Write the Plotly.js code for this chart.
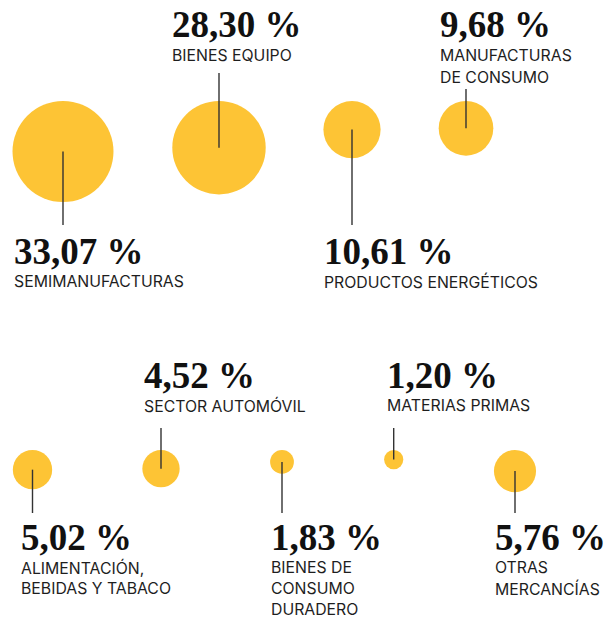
<!DOCTYPE html>
<html>
<head>
<meta charset="utf-8">
<script src="https://cdn.plot.ly/plotly-3.0.1.min.js"></script>
<style>
  html, body { margin: 0; padding: 0; background: #ffffff; }
  #chart { width: 605px; height: 618px; }
</style>
</head>
<body>
<div id="chart"></div>
<script>
// ---- data ----
var categories = [
  "SEMIMANUFACTURAS",
  "BIENES EQUIPO",
  "PRODUCTOS ENERGÉTICOS",
  "MANUFACTURAS<br>DE CONSUMO",
  "ALIMENTACIÓN,<br>BEBIDAS Y TABACO",
  "SECTOR AUTOMÓVIL",
  "BIENES DE<br>CONSUMO<br>DURADERO",
  "MATERIAS PRIMAS",
  "OTRAS<br>MERCANCÍAS"
];
var shares = [33.07, 28.30, 10.61, 9.68, 5.02, 4.52, 1.83, 1.20, 5.76];

// ---- layout (pixel positions, not data) ----
var W = 605, H = 618;
var circleX = [63, 219, 352, 466, 32.5, 161, 282, 393.7, 515];
var rowOf   = [0, 0, 0, 0, 1, 1, 1, 1, 1];
var rowTop  = [101, 450];
var side    = ["below", "above", "below", "above", "below", "above", "below", "above", "below"];
var textX   = [12, 170, 322, 438, 19, 142, 269, 385, 493];
var lineTopAbove = [null, 73, null, 89, null, 428, null, 428, null];
var lineEndBelow = [225, 513];
var numYAbove = [24.5, 375];
var numYBelow = [251, 537];
var labelStep = [22, 21];
var K = 17.56;                         // px of diameter per sqrt(%)
var SIZEREF = 2 / (K * K);             // plotly area-mode scale giving d = K*sqrt(v)
var YELLOW = "#FDC435";
var LINE = "#333333";
var INK = "#111111";

function diam(v) { return K * Math.sqrt(v); }
function fmt(v) { return v.toFixed(2).replace(".", ",") + " %"; }

var cy = shares.map(function (v, i) { return rowTop[rowOf[i]] + diam(v) / 2; });

var trace = {
  type: "scatter",
  mode: "markers",
  x: circleX,
  y: cy,
  text: categories,
  hoverinfo: "none",
  marker: {
    size: shares,
    sizemode: "area",
    sizeref: SIZEREF,
    color: YELLOW,
    opacity: 1,
    line: { width: 0 }
  }
};

var shapes = [];
var annotations = [];
shares.forEach(function (v, i) {
  var r = rowOf[i];
  var y0, y1, ny;
  if (side[i] === "above") {
    y0 = lineTopAbove[i]; y1 = cy[i]; ny = numYAbove[r];
  } else {
    y0 = cy[i]; y1 = lineEndBelow[r]; ny = numYBelow[r];
  }
  shapes.push({
    type: "line", xref: "x", yref: "y",
    x0: circleX[i], x1: circleX[i], y0: y0, y1: y1,
    line: { color: LINE, width: 1.4 }
  });
  annotations.push({
    xref: "x", yref: "y", x: textX[i], y: ny,
    xanchor: "left", yanchor: "middle", showarrow: false,
    text: "<b>" + fmt(v) + "</b>",
    font: { family: "Liberation Serif, serif", size: 37, color: INK }
  });
  categories[i].split("<br>").forEach(function (line, k) {
    annotations.push({
      xref: "x", yref: "y", x: textX[i], y: ny + 30.5 + labelStep[r] * k,
      xanchor: "left", yanchor: "middle", showarrow: false,
      text: line,
      font: { family: "Inter, Roboto, sans-serif", size: 15.8, color: "#1e1e1e" }
    });
  });
});

var layout = {
  width: W, height: H,
  margin: { l: 0, r: 0, t: 0, b: 0 },
  paper_bgcolor: "#ffffff",
  plot_bgcolor: "#ffffff",
  showlegend: false,
  xaxis: { range: [0, W], visible: false, fixedrange: true },
  yaxis: { range: [H, 0], visible: false, fixedrange: true },
  shapes: shapes,
  annotations: annotations
};

Plotly.newPlot("chart", [trace], layout, { displayModeBar: false, staticPlot: true });
</script>
</body>
</html>
